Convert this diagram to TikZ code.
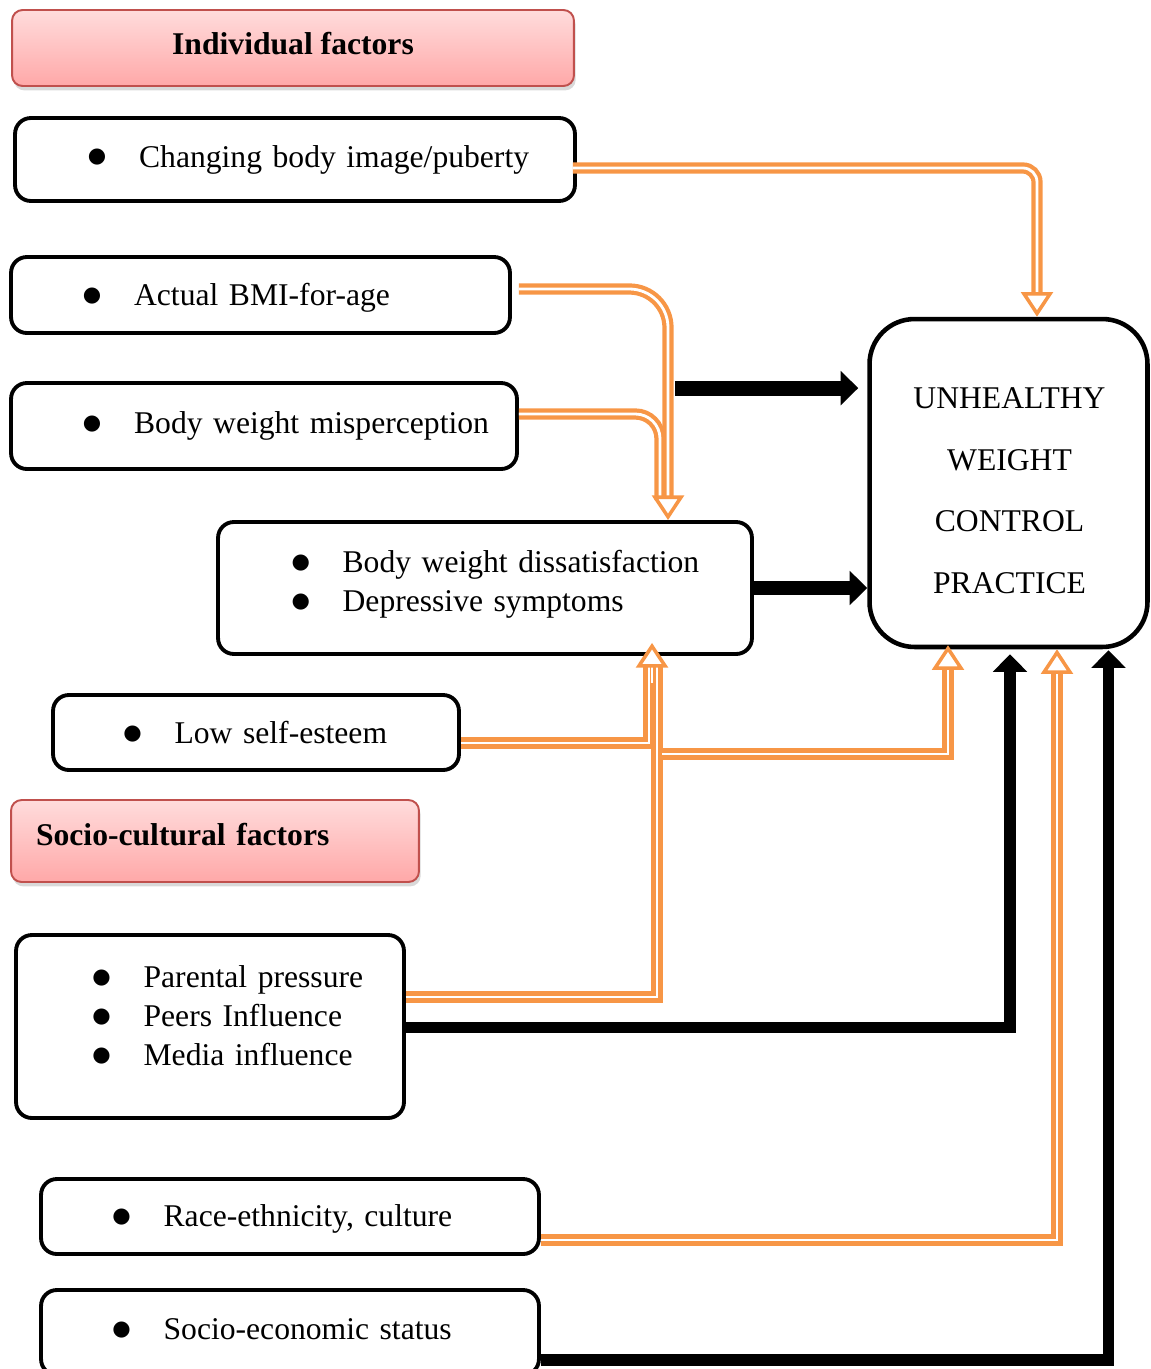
\documentclass[tikz,border=0pt]{standalone}
\usepackage{fontspec}
\setmainfont{Liberation Serif}
\newfontfamily\dejavu{DejaVu Sans}
\usepackage{tikz}
\usetikzlibrary{arrows.meta, calc, shadows}
\definecolor{fcorange}{HTML}{F79646}
\definecolor{hdrline}{HTML}{C0504D}
\definecolor{hdrtop}{HTML}{FFDCDC}
\definecolor{hdrbot}{HTML}{FFA8A8}
\newcommand{\bul}{\makebox[26.8pt][l]{\hspace*{-2.3pt}\smash{\raisebox{2.4pt}{\dejavu\fontsize{12pt}{12pt}\selectfont ●}}}}
\tikzset{
  hdr/.style={draw=hdrline, line width=1.1pt, rounded corners=6pt, top color=hdrtop, bottom color=hdrbot,
    drop shadow={shadow xshift=1pt, shadow yshift=-2.5pt, opacity=0.3}, font=\fontsize{18pt}{22pt}\selectfont\bfseries},
  fbox/.style={draw, line width=2.2pt, rounded corners=9pt, inner xsep=0pt, align=left},
  hollow/.style={draw=fcorange, line width=2.4pt, double=white, double distance=1.6pt},
  otip/.style={draw=white, line width=1.4pt, -{Triangle[length=14pt, width=18pt, line width=2pt, color=fcorange, fill=white]}},
  blk/.style={line width=7pt, -{Triangle[length=10pt, width=19pt]}}
}

\begin{document}
\begin{tikzpicture}[x=0.02cm, y=-0.02cm, font=\fontsize{18pt}{22.3pt}\selectfont]
  \useasboundingbox (0,0) rectangle (1150,1369);
  % Headers
  \node[hdr, minimum width=11.24cm, minimum height=1.52cm, text height=12.2pt, text depth=4.6pt] (indiv) at (293,48) {Individual factors};
  \node[hdr, text width=8.16cm, inner xsep=0pt, align=left, minimum height=1.64cm, text height=12.2pt, text depth=6.8pt] (socio) at (215,841)
    {\hspace*{0.5cm}Socio-cultural factors};
  % Factor boxes
  \node[fbox, text width=11.2cm, minimum height=1.66cm] (chg) at (295,159.5) {\hspace*{1.54cm}\bul Changing body image/puberty};
  \node[fbox, text width=9.98cm, minimum height=1.52cm, text height=15.7pt, text depth=3.9pt] (bmi) at (260.5,295)
    {\hspace*{1.52cm}\bul Actual BMI-for-age};
  \node[fbox, text width=10.12cm, minimum height=1.72cm] (mis) at (264,426) {\hspace*{1.52cm}\bul Body weight misperception};
  \node[fbox, text width=10.68cm, minimum height=2.64cm, text height=12.3pt, text depth=29.6pt] (dis) at (485,588)
    {\hspace*{1.55cm}\bul Body weight dissatisfaction\\\hspace*{1.55cm}\bul Depressive symptoms};
  \node[fbox, text width=8.12cm, minimum height=1.5cm] (low) at (256,732.5) {\hspace*{1.49cm}\bul Low self-esteem};
  \node[fbox, text width=7.76cm, minimum height=3.66cm, text height=12.3pt, text depth=57pt] (soc) at (210,1026.5)
    {\hspace*{1.61cm}\bul Parental pressure\\\hspace*{1.61cm}\bul Peers Influence\\\hspace*{1.61cm}\bul Media influence};
  \node[fbox, text width=9.96cm, minimum height=1.5cm, text height=15.7pt, text depth=3.9pt] (race) at (290,1216.5)
    {\hspace*{1.51cm}\bul Race-ethnicity, culture};
  \node[fbox, text width=9.96cm, minimum height=1.7cm, text height=12.3pt, text depth=4.6pt] (ses) at (290,1332.5)
    {\hspace*{1.51cm}\bul Socio-economic status};
  % Outcome
  \node[draw, line width=2.6pt, rounded corners=0.9cm, minimum width=5.56cm, minimum height=6.56cm] (unh) at (1008.5,483) {};
  \node[align=center, font=\fontsize{18pt}{35pt}\selectfont] (unhtxt) at ($(unh.center)+(1,7.5)$) {UNHEALTHY\\WEIGHT\\CONTROL\\PRACTICE};

  % Tip points
  \coordinate (tA) at ($(unh.north)+(28.5,0)$);
  \coordinate (tB) at ($(dis.north)+(183,0)$);
  \coordinate (tF) at ($(dis.south)+(167,-13)$);
  \coordinate (tG) at ($(unh.south)+(-60.5,-4)$);
  \coordinate (tI) at ($(unh.south)+(48.5,0)$);

  % Orange links
  \draw[hollow, rounded corners=8pt] ($(chg.east)+(-4,8.5)$) -| ($(tA)+(0,-20)$);
  \draw[hollow, rounded corners=14pt] ($(mis.east)+(0,-12)$) -| ($(tB)+(-8,-20)$);
  \draw[hollow, rounded corners=22pt] ($(bmi.east)+(7,-6)$) -| ($(tB)+(0,-20)$);
  \draw[hollow] ($(low.east)+(0,10.5)$) -| ($(tF)+(-3,20)$);
  \draw[hollow] ($(soc.east)+(0,-29.5)$) -| ($(tF)+(5,20)$);
  \draw[hollow] ($(tF)+(10,111)$) -| ($(tG)+(0,20)$);
  \draw[hollow] ($(race.east)+(0,23.5)$) -| ($(tI)+(0,20)$);
  \draw[otip] ($(tA)+(0,-40)$) -- (tA);
  \draw[otip] ($(tB)+(0,-40)$) -- (tB);
  \draw[otip] ($(tF)+(0,40)$) -- (tF);
  \draw[otip] ($(tG)+(0,40)$) -- (tG);
  \draw[otip] ($(tI)+(0,40)$) -- (tI);

  % Black links
  \coordinate (j1) at ($(tB)+(7,-132)$);
  \coordinate (j2) at ($(unh.west |- j1)+(-9,0)$);
  \draw[blk, line width=8.5pt] (j1) -- (j2);
  \draw[blk, line width=8.5pt] (dis.east) -- (unh.west |- dis.east);
  \draw[blk, line width=6.5pt] ($(soc.east)+(0,1)$) -| ($(unh.south)+(1.5,5)$);
  \draw[blk, line width=6.5pt] ($(ses.east)+(0,27.5)$) -| ($(unh.south)+(100,1)$);
\end{tikzpicture}
\end{document}
